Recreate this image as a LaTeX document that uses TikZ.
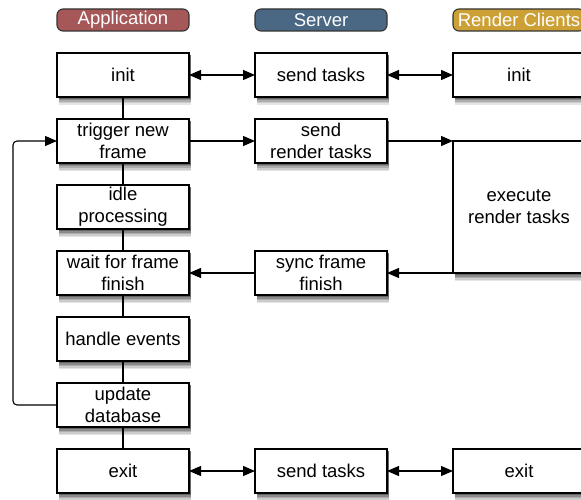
\documentclass[tikz,border=0pt]{standalone}
\usepackage{fontspec}
\setmainfont{Liberation Sans}
\usetikzlibrary{arrows.meta}
\usetikzlibrary{positioning}
\usetikzlibrary{backgrounds}
\definecolor{appred}{RGB}{166,88,88}
\definecolor{srvblue}{RGB}{74,103,131}
\definecolor{clgold}{RGB}{204,160,52}
\tikzset {
  link/.style = {
    draw = black,
    line width = 1.1pt,
    rounded corners = 4pt
  },
  % one way connector
  arr/.style = {
    link,
    -{Triangle[length=12pt,width=10pt]}
  },
  % two way connector
  darr/.style = {
    link,
    {Triangle[length=12pt,width=10pt]}-{Triangle[length=12pt,width=10pt]}
  }
}
\tikzset {
  task/.style = {
    draw = black,
    line width = 1.1pt,
    fill = white,
    rectangle,
    minimum width = 132pt,
    minimum height = 44pt,
    inner sep = 0pt,
    outer sep = 0pt,
    align = center,
    font = \fontsize{18.5}{22}\selectfont
  },
  % lane header
  lane/.style = {
    draw = black!80,
    line width = 1.1pt,
    rounded corners = 6pt,
    minimum width = 132pt,
    minimum height = 22pt,
    inner sep = 0pt,
    outer sep = 0pt,
    text = white,
    font = \fontsize{18.5}{22}\selectfont
  },
  % one grey layer of a box shadow
  shade layer/.style = {
    fill = black!#1
  },
  node distance = 22pt and 66pt
}
\begin{document}
\begin{tikzpicture}
    \useasboundingbox (0,0) rectangle (581pt,-500pt);

    % application lane
    \node[task] (init) at (123pt,-75pt) {init};
    \node[lane, fill=appred] (app) [above=of init] {Application};
    \node[task] (trigger) [below=of init] {trigger new\\frame};
    \node[task] (idle) [below=of trigger] {idle\\processing};
    \node[task] (wait) [below=of idle] {wait for frame\\finish};
    \node[task] (events) [below=of wait] {handle events};
    \node[task] (update) [below=of events] {update\\database};
    \node[task] (exit) [below=of update] {exit};

    % server lane
    \node[task] (s init) [right=of init] {send tasks};
    \node[lane, fill=srvblue] (server) [above=of s init] {Server};
    \node[task] (s send) [right=of trigger] {send\\render tasks};
    \node[task] (s sync) [right=of wait] {sync frame\\finish};
    \node[task] (s exit) [right=of exit] {send tasks};

    % render client lane
    \node[task] (c init) [right=of s init] {init};
    \node[lane, fill=clgold] (clients) [above=of c init] {Render Clients};
    \node[task, minimum height=132pt, anchor=north west] (c exec)
      at (s send.east -| c init.west) {execute\\render tasks};
    \node[task] (c exit) [right=of s exit] {exit};

    % soft shadows under the boxes
    \begin{pgfonlayer}{background}
      \foreach \tsk in {init, trigger, idle, wait, events, update, exit,
          s init, s send, s sync, s exit, c init, c exec, c exit} {
        \foreach \dy/\grey in {8/10, 6.5/20, 5/32, 3.5/46, 2/60} {
          \fill[shade layer=\grey]
            ([shift={(1.5pt,-\dy pt)}]\tsk.south west)
            rectangle ([shift={(1.5pt,-\dy pt)}]\tsk.north east);
        }
      }
    \end{pgfonlayer}

    % main line
    \draw[link] (init) -- (trigger);
    \draw[link] (trigger) -- (idle);
    \draw[link] (idle) -- (wait);
    \draw[link] (wait) -- (events);
    \draw[link] (events) -- (update);
    \draw[link] (update) -- (exit);

    % startup and shutdown
    \draw[darr] (init) -- (s init);
    \draw[darr] (s init) -- (c init);
    \draw[darr] (exit) -- (s exit);
    \draw[darr] (s exit) -- (c exit);

    % one frame
    \draw[arr] (trigger) -- (s send);
    \draw[arr] (s send) -- (c exec.north west);
    \draw[arr] (c exec.south west) -- (s sync);
    \draw[arr] (s sync) -- (wait);

    % loop back to next frame
    \draw[arr] (update.west)
      -- ++(-44pt,0)
      |- (trigger.west);
\end{tikzpicture}
\end{document}
